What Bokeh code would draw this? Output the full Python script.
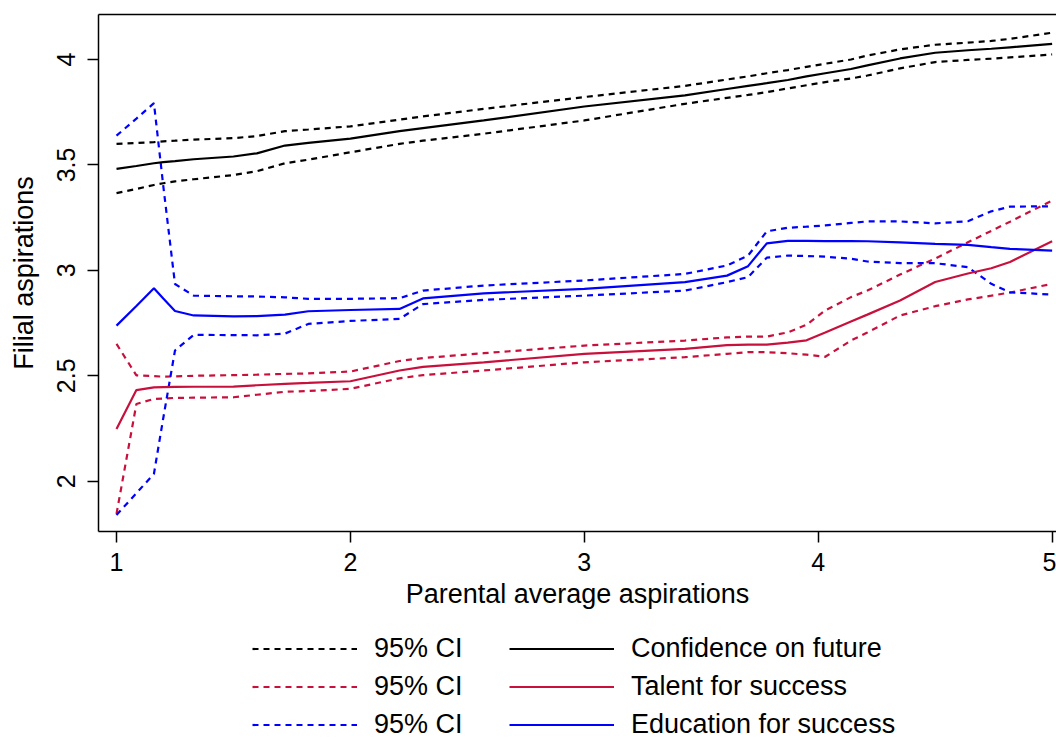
from bokeh.plotting import figure
from bokeh.models import Range1d, FixedTicker, LinearAxis, Legend, LegendItem
from bokeh.layouts import column
from bokeh.embed import file_html
from bokeh.resources import INLINE

# Grid of parental average aspirations
x = [1.00, 1.085, 1.16, 1.20, 1.25, 1.33, 1.50, 1.60, 1.72, 1.82, 2.00, 2.21, 2.31, 2.57, 3.00,
     3.43, 3.61, 3.70, 3.78, 3.87, 3.95, 4.03, 4.14, 4.21, 4.35, 4.50, 4.64, 4.74, 4.82, 5.00]

# Confidence on future
conf = [3.481, 3.495, 3.508, 3.513, 3.518, 3.527, 3.540, 3.555, 3.592, 3.605, 3.625, 3.660, 3.675, 3.711, 3.777,
        3.830, 3.860, 3.875, 3.888, 3.903, 3.920, 3.935, 3.955, 3.972, 4.005, 4.032, 4.044, 4.051, 4.058, 4.074]
conf_hi = [3.600, 3.604, 3.608, 3.612, 3.615, 3.620, 3.627, 3.637, 3.660, 3.668, 3.683, 3.715, 3.730, 3.766, 3.822,
           3.875, 3.905, 3.920, 3.935, 3.950, 3.965, 3.980, 4.000, 4.019, 4.048, 4.070, 4.080, 4.088, 4.098, 4.127]
conf_lo = [3.366, 3.386, 3.405, 3.413, 3.422, 3.432, 3.452, 3.470, 3.508, 3.525, 3.560, 3.600, 3.615, 3.648, 3.711,
           3.790, 3.818, 3.832, 3.845, 3.863, 3.878, 3.893, 3.910, 3.924, 3.958, 3.988, 3.998, 4.004, 4.010, 4.024]

# Talent for success
talent = [2.248, 2.432, 2.445, 2.446, 2.447, 2.448, 2.449, 2.455, 2.462, 2.466, 2.474, 2.525, 2.542, 2.564, 2.604,
          2.628, 2.645, 2.648, 2.648, 2.657, 2.668, 2.705, 2.757, 2.790, 2.857, 2.945, 2.985, 3.010, 3.040, 3.138]
talent_hi = [2.651, 2.502, 2.498, 2.496, 2.497, 2.500, 2.503, 2.505, 2.509, 2.511, 2.520, 2.570, 2.584, 2.607, 2.643,
             2.667, 2.682, 2.686, 2.686, 2.706, 2.742, 2.810, 2.873, 2.904, 2.980, 3.056, 3.133, 3.187, 3.231, 3.331]
talent_lo = [1.845, 2.366, 2.390, 2.392, 2.395, 2.396, 2.398, 2.410, 2.424, 2.428, 2.438, 2.488, 2.503, 2.525, 2.564,
             2.588, 2.604, 2.612, 2.612, 2.607, 2.600, 2.590, 2.667, 2.705, 2.786, 2.830, 2.862, 2.880, 2.895, 2.936]

# Education for success
edu = [2.738, 2.831, 2.915, 2.866, 2.807, 2.786, 2.782, 2.783, 2.790, 2.806, 2.812, 2.817, 2.867, 2.891, 2.912,
       2.944, 2.975, 3.020, 3.128, 3.140, 3.140, 3.139, 3.139, 3.138, 3.133, 3.126, 3.121, 3.110, 3.102, 3.094]
edu_hi = [3.639, 3.720, 3.793, 3.400, 2.935, 2.880, 2.877, 2.876, 2.872, 2.865, 2.865, 2.868, 2.904, 2.928, 2.952,
          2.983, 3.023, 3.070, 3.185, 3.202, 3.207, 3.213, 3.225, 3.232, 3.232, 3.223, 3.233, 3.280, 3.302, 3.304]
edu_lo = [1.840, 1.943, 2.035, 2.300, 2.620, 2.694, 2.693, 2.692, 2.700, 2.746, 2.760, 2.770, 2.840, 2.860, 2.880,
          2.904, 2.944, 2.968, 3.060, 3.070, 3.068, 3.065, 3.055, 3.042, 3.034, 3.034, 3.015, 2.936, 2.896, 2.885]

x_ticks = [1, 2, 3, 4, 5]
y_ticks = [2, 2.5, 3, 3.5, 4]
y_tick_labels = {2: "2", 2.5: "2.5", 3: "3", 3.5: "3.5", 4: "4"}

series = [
    ("Confidence on future", conf, conf_lo, conf_hi, "#000000"),
    ("Talent for success", talent, talent_lo, talent_hi, "#C8103C"),
    ("Education for success", edu, edu_lo, edu_hi, "#0000FF"),
]
ci_label = "95% CI"

BLACK = "#000000"
FONT = "Liberation Sans"
DASH = "6 5"
LW = 2.2

p = figure(output_backend="svg", toolbar_location=None,
           frame_width=958, frame_height=517,
           x_range=Range1d(0.923, 5.0187), y_range=Range1d(1.7614, 4.2135),
           min_border_left=98, min_border_right=0, min_border_top=14, min_border_bottom=83)
p.outline_line_color = None
p.grid.visible = False
p.background_fill_color = "white"
p.border_fill_color = "white"

for name, mid, lo, hi, col in series:
    p.line(x, hi, color=col, line_width=LW, line_dash=DASH)
    p.line(x, lo, color=col, line_width=LW, line_dash=DASH)
for name, mid, lo, hi, col in series:
    p.line(x, mid, color=col, line_width=LW)

for ax in (p.xaxis[0], p.yaxis[0]):
    ax.axis_line_width = 1.5
    ax.axis_line_color = BLACK
    ax.major_tick_line_width = 1.5
    ax.major_tick_line_color = BLACK
    ax.major_tick_out = 11
    ax.major_tick_in = 0
    ax.minor_tick_line_color = None
    ax.major_label_text_font = FONT
    ax.major_label_text_font_size = "25px"
    ax.major_label_text_color = BLACK
    ax.axis_label_text_font = FONT
    ax.axis_label_text_font_size = "27px"
    ax.axis_label_text_font_style = "normal"
    ax.axis_label_text_color = BLACK

p.xaxis.ticker = FixedTicker(ticks=x_ticks)
p.yaxis.ticker = FixedTicker(ticks=y_ticks)
p.yaxis.major_label_overrides = y_tick_labels
p.yaxis.major_label_orientation = "vertical"
p.xaxis.axis_label = "Parental average aspirations"
p.yaxis.axis_label = "Filial aspirations"
p.xaxis.major_label_standoff = 10
p.yaxis.major_label_standoff = 12
p.xaxis.axis_label_standoff = 5
p.yaxis.axis_label_standoff = 16

top = LinearAxis(ticker=FixedTicker(ticks=[]), major_label_text_font_size="0px",
                 major_tick_out=0, major_tick_in=0, minor_tick_out=0, minor_tick_in=0,
                 major_label_standoff=0, axis_line_width=1.5, axis_line_color=BLACK)
p.add_layout(top, "above")

# Legend strip below the plot (its lines lie outside its own ranges, only the legend shows)
leg = figure(width=1056, height=126, output_backend="svg", toolbar_location=None,
             x_range=Range1d(0, 1), y_range=Range1d(10, 11),
             x_axis_type=None, y_axis_type=None,
             min_border_left=0, min_border_right=0, min_border_top=0, min_border_bottom=0)
leg.outline_line_color = None
leg.grid.visible = False
leg.border_fill_color = "white"

ci_items, mid_items = [], []
for name, mid, lo, hi, col in series:
    r_ci = leg.line(x, hi, color=col, line_width=LW, line_dash=DASH)
    r_mid = leg.line(x, mid, color=col, line_width=LW)
    ci_items.append(LegendItem(label=ci_label, renderers=[r_ci]))
    mid_items.append(LegendItem(label=name, renderers=[r_mid]))

legend = Legend(items=ci_items + mid_items, ncols=2, location=(154, 0), orientation="vertical",
                border_line_color=None, background_fill_alpha=0, padding=0, margin=0,
                spacing=7, glyph_width=105, glyph_height=31, label_height=31, label_width=128,
                label_standoff=17, label_text_font=FONT, label_text_font_size="27px",
                label_text_color=BLACK)
leg.add_layout(legend, "center")

layout = column(p, leg, spacing=0)
open("out.html", "w").write(file_html(layout, INLINE))
